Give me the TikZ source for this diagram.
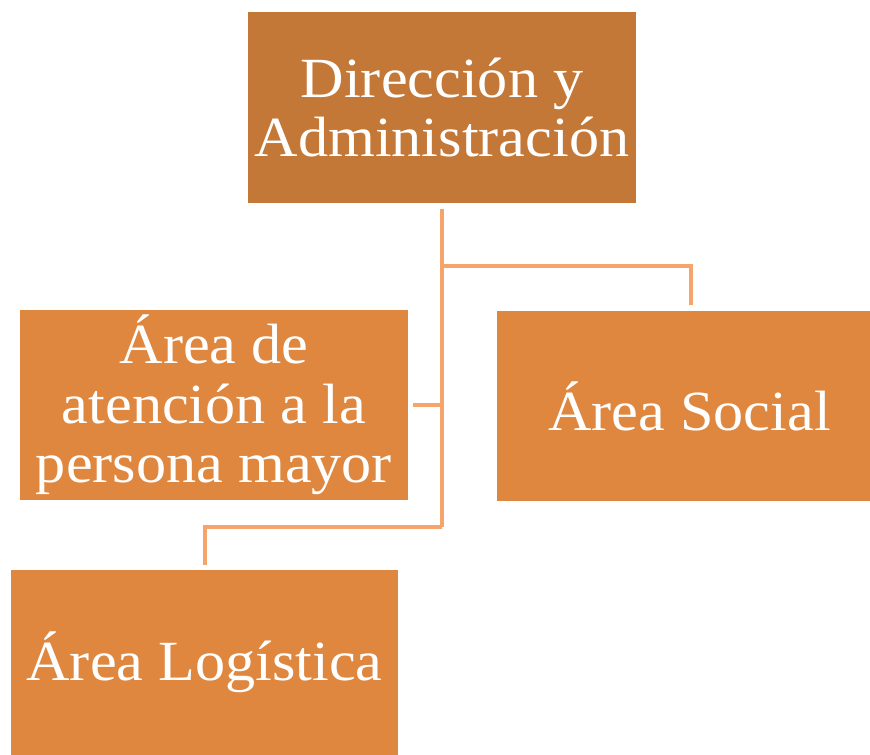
\documentclass[tikz,border=0pt]{standalone}
\usepackage{fontspec}
\setmainfont[FakeStretch=1.06]{Liberation Serif}
\definecolor{topfill}{HTML}{C47837}
\definecolor{boxfill}{HTML}{DF873F}
\definecolor{linecol}{HTML}{F5A56B}
\begin{document}
\begin{tikzpicture}[x=1bp,y=-1bp,
  orgbox/.style={rectangle, fill=boxfill, draw=none, text=white, align=center,
    inner sep=0pt, font=\fontsize{57}{59.5}\selectfont},
  conn/.style={draw=linecol, line width=4bp}]
\useasboundingbox (0,0) rectangle (870,755);
\node[orgbox, fill=topfill, minimum width=388bp, minimum height=191bp] (top) at (442,107.5) {Dirección y\\Administración};
\node[orgbox, minimum width=388bp, minimum height=190bp] (left) at (214,405) {Área de\\atención a la\\persona mayor};
\node[orgbox, minimum width=373bp, minimum height=190bp] (right) at (683.5,406) {\hspace*{12bp}Área Social};
\node[orgbox, minimum width=387bp, minimum height=185bp] (bottom) at (204.5,662.5) {Área Logística};
\coordinate (t0) at ([yshift=-6bp]top.south);
\coordinate (jr) at (442,266);
\coordinate (re) at (691,305);
\coordinate (jl) at (442,405);
\coordinate (le) at (413,405);
\coordinate (jb) at (442,527);
\coordinate (be) at (205,565);
\draw[conn] (t0) -- (jb);
\draw[conn] (jr) -| (re);
\draw[conn] (jl) -- (le);
\draw[conn] (jb) -| (be);
\end{tikzpicture}
\end{document}
